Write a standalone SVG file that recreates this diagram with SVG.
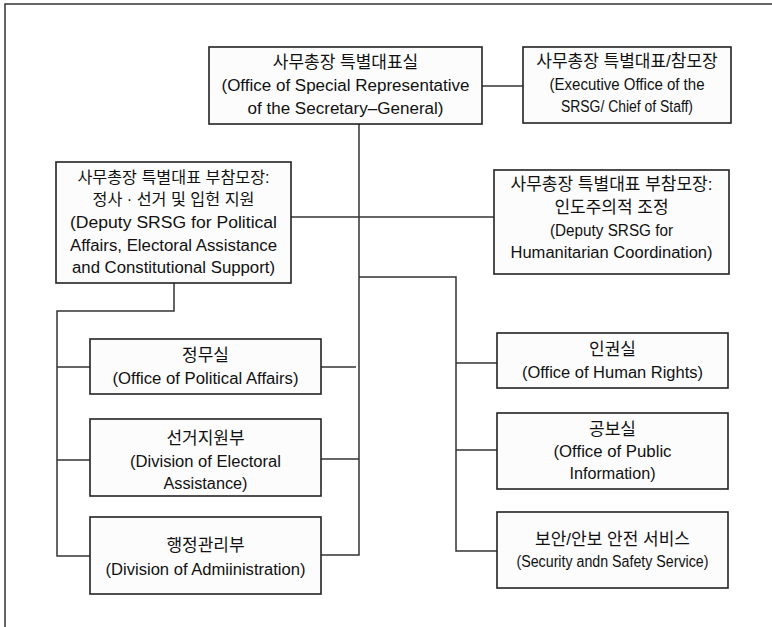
<svg xmlns="http://www.w3.org/2000/svg" width="772" height="627" viewBox="0 0 772 627">
<style>
.box{fill:#fcfcfc;stroke:#222;stroke-width:1.6}
.ln{fill:none;stroke:#333;stroke-width:1.5}
text{font-family:"Liberation Sans","Noto Sans CJK KR",sans-serif;font-size:16px;fill:#111;text-anchor:middle}
text.ko{font-size:17px}
text.ks{font-size:16.2px}
</style>
<rect width="772" height="627" fill="#fff"/>
<path class="ln" d="M5,640 V4 H780"/>
<g id="connectors">
<path class="ln" d="M482,86 H523"/>
<path class="ln" d="M359,124 V555 H321"/>
<path class="ln" d="M291,217 H494"/>
<path class="ln" d="M321,367 H356"/>
<path class="ln" d="M321,459 H359"/>
<path class="ln" d="M359,277 H456 V551 H497"/>
<path class="ln" d="M456,363 H497"/>
<path class="ln" d="M456,450 H497"/>
<path class="ln" d="M174,283 V311 H57 V556 H90"/>
<path class="ln" d="M57,367 H90"/>
<path class="ln" d="M57,460 H90"/>
</g>
<g id="srsg">
<rect class="box" x="209" y="47" width="273" height="77"/>
<text class="ko" x="345.5" y="68">사무총장 특별대표실</text>
<text x="345.5" y="91" textLength="248" lengthAdjust="spacingAndGlyphs">(Office of Special Representative</text>
<text x="345.5" y="114" textLength="196" lengthAdjust="spacingAndGlyphs">of the Secretary–General)</text>
</g>
<g id="exec">
<rect class="box" x="523" y="47" width="208" height="76"/>
<text class="ko" x="627" y="67">사무총장 특별대표/참모장</text>
<text x="627" y="90" textLength="155" lengthAdjust="spacingAndGlyphs">(Executive Office of the</text>
<text x="627" y="112" textLength="132" lengthAdjust="spacingAndGlyphs">SRSG/ Chief of Staff)</text>
</g>
<g id="dsrsg-pol">
<rect class="box" x="56" y="162" width="235" height="121"/>
<text class="ks" x="173.5" y="183">사무총장 특별대표 부참모장:</text>
<text class="ks" x="173.5" y="205">정사 · 선거 및 입헌 지원</text>
<text x="173.5" y="228" textLength="207" lengthAdjust="spacingAndGlyphs">(Deputy SRSG for Political</text>
<text x="173.5" y="251" textLength="207" lengthAdjust="spacingAndGlyphs">Affairs, Electoral Assistance</text>
<text x="173.5" y="273" textLength="203" lengthAdjust="spacingAndGlyphs">and Constitutional Support)</text>
</g>
<g id="dsrsg-hum">
<rect class="box" x="494" y="170" width="235" height="104"/>
<text class="ko" x="611.5" y="190">사무총장 특별대표 부참모장:</text>
<text class="ko" x="611.5" y="213">인도주의적 조정</text>
<text x="611.5" y="236" textLength="123" lengthAdjust="spacingAndGlyphs">(Deputy SRSG for</text>
<text x="611.5" y="258" textLength="202" lengthAdjust="spacingAndGlyphs">Humanitarian Coordination)</text>
</g>
<g id="political">
<rect class="box" x="90" y="339" width="231" height="55"/>
<text class="ko" x="205.5" y="361">정무실</text>
<text x="205.5" y="384" textLength="186" lengthAdjust="spacingAndGlyphs">(Office of Political Affairs)</text>
</g>
<g id="electoral">
<rect class="box" x="90" y="419" width="231" height="77"/>
<text class="ko" x="205.5" y="444">선거지원부</text>
<text x="205.5" y="467" textLength="151" lengthAdjust="spacingAndGlyphs">(Division of Electoral</text>
<text x="205.5" y="489" textLength="84" lengthAdjust="spacingAndGlyphs">Assistance)</text>
</g>
<g id="admin">
<rect class="box" x="90" y="517" width="231" height="77"/>
<text class="ko" x="205.5" y="551">행정관리부</text>
<text x="205.5" y="575" textLength="200" lengthAdjust="spacingAndGlyphs">(Division of Admiinistration)</text>
</g>
<g id="human-rights">
<rect class="box" x="497" y="333" width="231" height="55"/>
<text class="ko" x="612.5" y="355">인권실</text>
<text x="612.5" y="378" textLength="181" lengthAdjust="spacingAndGlyphs">(Office of Human Rights)</text>
</g>
<g id="public-info">
<rect class="box" x="497" y="413" width="231" height="76"/>
<text class="ko" x="612.5" y="435">공보실</text>
<text x="612.5" y="457" textLength="118" lengthAdjust="spacingAndGlyphs">(Office of Public</text>
<text x="612.5" y="479" textLength="86" lengthAdjust="spacingAndGlyphs">Information)</text>
</g>
<g id="security">
<rect class="box" x="497" y="512" width="231" height="76"/>
<text class="ko" x="612.5" y="545">보안/안보 안전 서비스</text>
<text x="612.5" y="567" textLength="192" lengthAdjust="spacingAndGlyphs">(Security andn Safety Service)</text>
</g>
</svg>
